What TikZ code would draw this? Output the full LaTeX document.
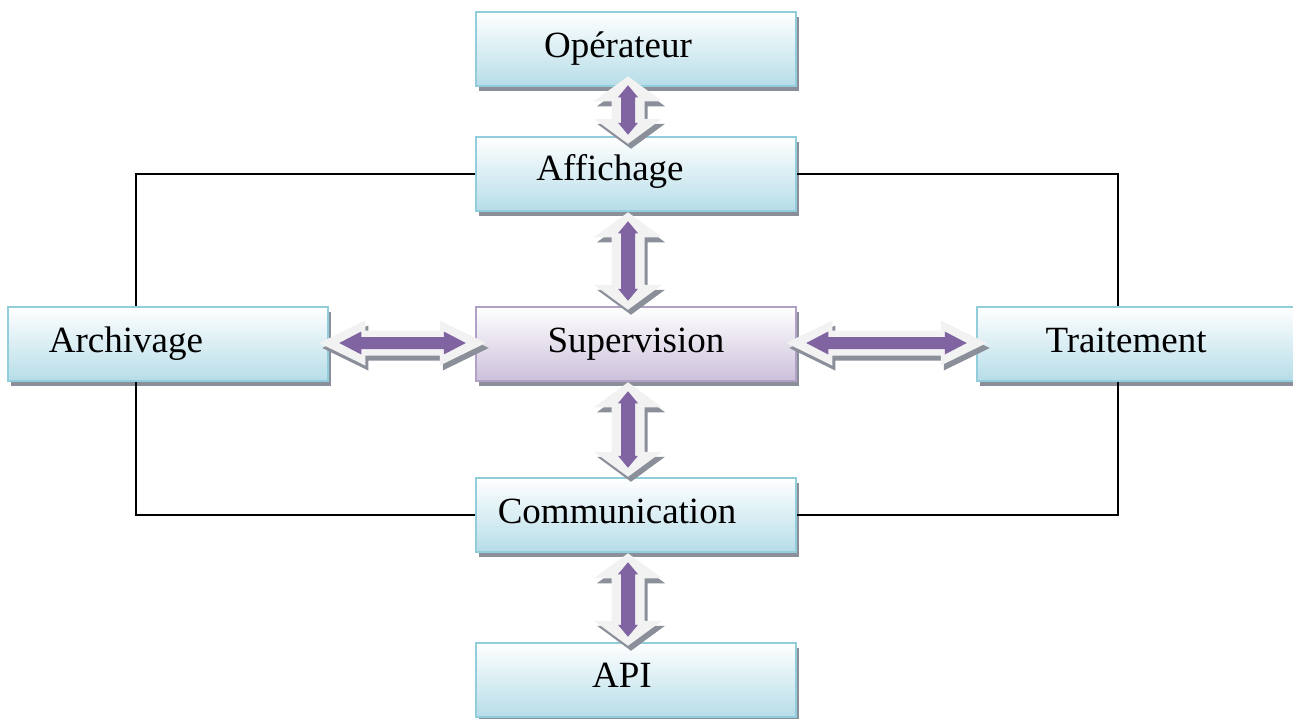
\documentclass[tikz,border=0pt]{standalone}
\usepackage{fontspec}
\setmainfont{Liberation Serif}
\usetikzlibrary{calc,shadows}
\definecolor{bluefill}{HTML}{B6DDE8}
\definecolor{blueline}{HTML}{92CDDC}
\definecolor{lilacfill}{HTML}{CCC0DA}
\definecolor{lilacline}{HTML}{B2A1C7}
\definecolor{purp}{HTML}{8064A2}
\definecolor{arrw}{HTML}{F2F2F2}
\definecolor{shad}{HTML}{8A8F99}
\tikzset{
  box/.style={rectangle, minimum width=320pt, minimum height=74pt, inner sep=0pt,
    draw=blueline, line width=2.5pt, top color=white, bottom color=bluefill,
    drop shadow={shadow xshift=3pt, shadow yshift=-5pt, fill=shad, opacity=1}},
  supbox/.style={box, draw=lilacline, bottom color=lilacfill},
  txt/.style={inner sep=0pt, anchor=base, font=\fontsize{37}{44}\selectfont},
  conn/.style={draw=black, line width=1.5pt}
}
% vertical block arrow shape: top tip, bottom tip, head half width, head length, shaft half width, colour
\newcommand\vshape[6]{%
  \fill[#6] (#1) -- ([shift={(#3,#4)}]#1) -- ([shift={(#5,#4)}]#1) -- ([shift={(#5,-#4)}]#2)
    -- ([shift={(#3,-#4)}]#2) -- (#2) -- ([shift={(-#3,-#4)}]#2) -- ([shift={(-#5,-#4)}]#2)
    -- ([shift={(-#5,#4)}]#1) -- ([shift={(-#3,#4)}]#1) -- cycle;}
% horizontal block arrow shape: left tip, right tip, head half height, head length, shaft half height, colour
\newcommand\hshape[6]{%
  \fill[#6] (#1) -- ([shift={(#4,-#3)}]#1) -- ([shift={(#4,-#5)}]#1) -- ([shift={(-#4,-#5)}]#2)
    -- ([shift={(-#4,-#3)}]#2) -- (#2) -- ([shift={(-#4,#3)}]#2) -- ([shift={(-#4,#5)}]#2)
    -- ([shift={(#4,#5)}]#1) -- ([shift={(#4,#3)}]#1) -- cycle;}
% vertical double block arrow between two nodes
\newcommand\varrowblk[4]{%
  \coordinate (t) at ([xshift=-8pt,yshift=#3pt]#1.south);
  \coordinate (b) at ([xshift=-8pt,yshift=-#4pt]#2.north);
  \coordinate (ts) at ([shift={(3,5)}]t);
  \coordinate (bs) at ([shift={(3,5)}]b);
  \coordinate (ti) at ([shift={(0,9)}]t);
  \coordinate (bi) at ([shift={(0,-9)}]b);
  \vshape{ts}{bs}{34}{25}{16.5}{shad}
  \vshape{t}{b}{34}{25}{16.5}{arrw}
  \vshape{ti}{bi}{10}{12}{7}{purp}}
% horizontal double block arrow between two nodes
\newcommand\harrowblk[4]{%
  \coordinate (l) at ([xshift=-#3pt,yshift=1pt]#1.east);
  \coordinate (r) at ([xshift=#4pt,yshift=1pt]#2.west);
  \coordinate (ls) at ([shift={(3,5)}]l);
  \coordinate (rs) at ([shift={(3,5)}]r);
  \coordinate (li) at ([shift={(20,0)}]l);
  \coordinate (ri) at ([shift={(-20,0)}]r);
  \hshape{ls}{rs}{22.5}{46}{12.5}{shad}
  \hshape{l}{r}{22.5}{46}{12.5}{arrw}
  \hshape{li}{ri}{11.5}{22}{6}{purp}}
\begin{document}
\begin{tikzpicture}[x=1pt,y=-1pt]
\useasboundingbox (0,0) rectangle (1293,718);
% boxes
\node[box] (op) at (636,49) {};
\node[box] (aff) at (636,174) {};
\node[box] (arch) at (168,344) {};
\node[supbox] (sup) at (636,344) {};
\node[box] (trait) at (1137,344) {};
\node[box] (com) at (636,515) {};
\node[box] (api) at (636,680) {};
% labels
\node[txt] (top) at (618,57) {Opérateur};
\node[txt] (taff) at (610,180) {Affichage};
\node[txt] (tarch) at (126,352) {Archivage};
\node[txt] (tsup) at (636,352) {Supervision};
\node[txt] (ttrait) at (1126,352) {Traitement};
\node[txt] (tcom) at (617,523) {Communication};
\node[txt] (tapi) at (622,687) {API};
% loop connectors
\coordinate (lx) at (136,0);
\coordinate (rx) at (1118,0);
\draw[conn] (aff.west) -| (arch.north -| lx);
\draw[conn] (arch.south -| lx) |- (com.west);
\draw[conn] (aff.east) -| (trait.north -| rx);
\draw[conn] (trait.south -| rx) |- (com.east);
% block arrows
\varrowblk{op}{aff}{11}{8}
\varrowblk{aff}{sup}{0}{4}
\varrowblk{sup}{com}{0}{0}
\varrowblk{com}{api}{0}{4}
\harrowblk{arch}{sup}{10}{11}
\harrowblk{sup}{trait}{11}{11}
\end{tikzpicture}
\end{document}
